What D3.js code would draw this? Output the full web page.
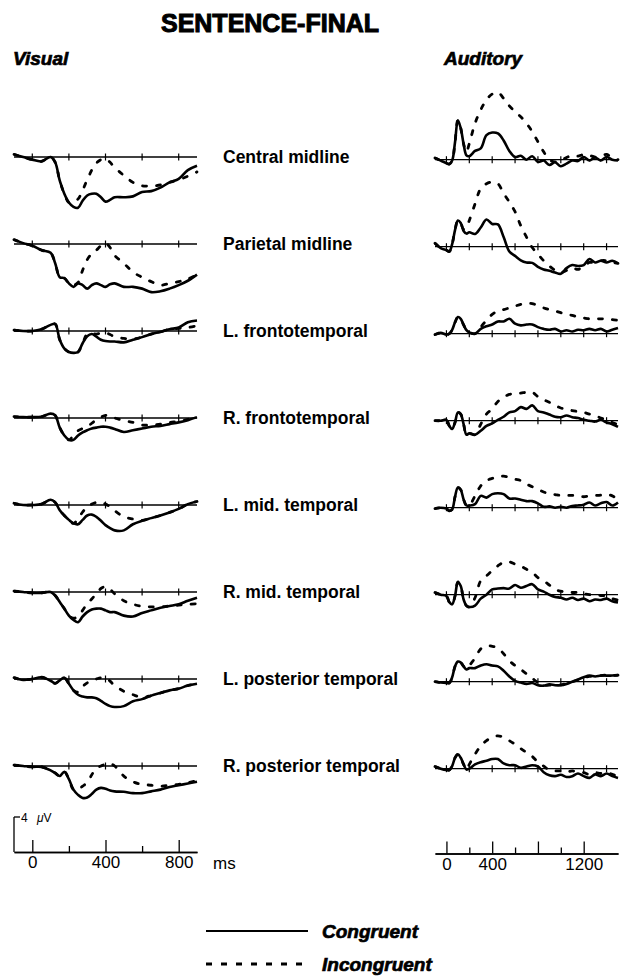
<!DOCTYPE html>
<html>
<head>
<meta charset="utf-8">
<script src="https://d3js.org/d3.v7.min.js"></script>
<style>
    html, body { margin: 0; padding: 0; background: #fff; }
    svg { display: block; font-family: "Liberation Sans", Arial, Helvetica, sans-serif; }
    .heavy { font-weight: bold; stroke: #000; stroke-width: 0.7px; }
</style>
</head>
<body>
<svg id="chart" width="624" height="977"></svg>
<script>
// recording sites, one row each
var sites = ["Central midline", "Parietal midline", "L. frontotemporal", "R. frontotemporal",
             "L. mid. temporal", "R. mid. temporal", "L. posterior temporal", "R. posterior temporal"];

// sample times (ms)
var visualTimes = [-100, -50, 0, 50, 100, 125, 150, 175, 200, 225, 250, 275, 300, 325, 350, 375,
                   400, 425, 450, 500, 550, 600, 650, 700, 750, 800, 850, 900];
var auditoryTimes = [-100, -50, 0, 25, 50, 75, 100, 125, 150, 175, 200, 250, 300, 350, 400, 450,
                     500, 550, 600, 650, 700, 750, 800, 850, 900, 950, 1000, 1050, 1100, 1150,
                     1200, 1250, 1300, 1350, 1400, 1450, 1500];

// amplitudes in microvolts, negative plotted up
var visualCongruent = [
    [-0.3, 0, 0.3, 0.5, 0, 0.6, 2.7, 4.2, 5.2, 5.7, 5.8, 5.0, 4.4, 4.2, 4.2, 4.6, 5.1, 4.9, 4.6, 4.6, 4.5, 4.0, 3.9, 3.5, 2.9, 2.5, 1.5, 1.0],
    [-0.5, -0.1, 0.2, 0.7, 1.0, 2.2, 3.8, 3.9, 4.5, 4.9, 4.5, 4.7, 5.1, 4.7, 4.5, 4.7, 4.9, 4.6, 4.5, 4.9, 4.9, 5.1, 5.5, 5.4, 5.1, 4.7, 4.2, 3.5],
    [-0.1, 0, 0, -0.2, -0.7, -0.8, 1.0, 2.0, 2.4, 2.5, 2.4, 1.4, 0.6, 0.35, 0.65, 1.0, 1.15, 1.2, 1.2, 1.3, 1.0, 0.7, 0.35, 0.1, -0.2, -0.4, -1.0, -1.2],
    [-0.15, -0.1, -0.1, -0.15, -0.5, -0.3, 1.1, 2.0, 2.5, 2.5, 2.0, 1.65, 1.4, 1.2, 1.1, 1.0, 1.0, 1.1, 1.25, 1.6, 1.4, 1.2, 1.0, 0.9, 0.7, 0.5, 0.25, -0.1],
    [-0.2, 0, 0, -0.1, -0.6, -0.3, 0.6, 1.2, 1.7, 2.1, 2.2, 1.7, 1.2, 1.1, 1.35, 1.8, 2.3, 2.65, 2.9, 2.9, 2.2, 1.8, 1.5, 1.2, 0.85, 0.45, -0.1, -0.4],
    [-0.1, 0, 0.1, 0.1, 0, 0.4, 1.15, 1.9, 2.7, 3.2, 3.45, 2.8, 2.3, 2.0, 1.9, 1.9, 2.1, 2.3, 2.3, 2.7, 2.8, 2.4, 2.1, 1.8, 1.6, 1.4, 1.0, 0.65],
    [-0.15, 0.1, 0, -0.2, 0.2, 0.5, 0.15, -0.15, 0.55, 1.3, 1.8, 2.0, 2.1, 2.1, 2.2, 2.5, 2.85, 3.1, 3.2, 3.1, 2.55, 2.3, 1.9, 1.6, 1.3, 1.1, 0.75, 0.55],
    [-0.1, 0, 0.1, 0.1, 0.5, 0.8, 1.15, 0.65, 1.5, 2.7, 3.3, 3.65, 3.6, 3.2, 2.7, 2.5, 2.6, 2.8, 2.9, 2.95, 3.1, 3.1, 2.9, 2.7, 2.4, 2.2, 2.0, 1.8]
];
var visualIncongruent = [
    [-0.3, 0, 0.3, 0.5, 0, 0.6, 2.7, 4.2, 5.2, 5.0, 4.8, 3.8, 2.6, 1.5, 0.7, 0.3, 0.2, 0.6, 1.2, 2.1, 2.9, 3.3, 3.3, 3.2, 2.9, 2.6, 2.2, 1.7],
    [-0.5, -0.1, 0.2, 0.7, 1.0, 2.2, 3.8, 3.9, 4.5, 4.7, 4.4, 3.0, 1.8, 1.1, 0.7, 0.2, -0.1, 0.4, 1.3, 2.2, 3.2, 3.8, 4.3, 4.7, 4.5, 4.3, 4.0, 3.5],
    [-0.1, 0, 0, -0.2, -0.7, -0.8, 1.0, 2.0, 2.4, 2.5, 2.4, 1.4, 0.35, 0.3, 0.35, 0.25, 0.2, 0.4, 0.65, 0.85, 0.9, 0.7, 0.35, 0.1, -0.2, -0.3, -0.4, -0.6],
    [-0.15, -0.1, -0.1, -0.15, -0.5, -0.3, 1.1, 2.0, 2.5, 2.0, 1.45, 1.2, 1.0, 0.6, 0.2, -0.1, -0.3, -0.2, 0, 0.3, 0.5, 0.8, 0.8, 0.7, 0.5, 0.4, 0.15, -0.1],
    [-0.2, 0, 0, -0.1, -0.6, -0.3, 0.6, 1.2, 1.7, 2.1, 1.6, 0.8, 0.2, -0.1, -0.3, -0.3, -0.1, 0.2, 0.65, 1.35, 1.6, 1.75, 1.5, 1.2, 0.85, 0.45, -0.1, -0.4],
    [-0.1, 0, 0.1, 0.1, 0, 0.4, 1.15, 1.9, 2.7, 3.0, 2.8, 2.1, 1.35, 0.8, 0.2, -0.4, -0.6, -0.3, 0.2, 1.0, 1.4, 1.65, 1.7, 1.7, 1.6, 1.5, 1.4, 1.35],
    [-0.15, 0.1, 0, -0.2, 0.2, 0.5, 0.15, -0.15, 0.55, 1.3, 1.5, 0.85, 0.45, 0.15, 0, -0.15, -0.15, 0.25, 0.75, 1.4, 1.8, 2.1, 1.9, 1.6, 1.3, 1.1, 0.75, 0.55],
    [-0.1, 0, 0.1, 0.1, 0.5, 0.8, 1.15, 0.65, 1.5, 2.7, 2.7, 2.3, 1.9, 1.0, 0.25, 0, -0.2, -0.25, 0, 1.15, 1.8, 2.1, 2.2, 2.3, 2.2, 2.1, 1.9, 1.7]
];
var auditoryCongruent = [
    [-0.2, 0.1, 0.4, 0.5, 0.1, -2.0, -4.5, -3.6, -1.8, -0.5, -0.4, -1.0, -1.3, -2.8, -3.1, -3.0, -2.2, -1.0, -0.3, -0.45, 0, -0.4, 0.25, 0.1, 0.6, 0.3, 0.75, 0.45, 0.1, 0.15, -0.3, 0.1, -0.25, 0.1, -0.3, 0, 0.1],
    [-0.4, 0.15, 0.4, 0.55, -0.3, -1.9, -3.0, -2.7, -1.8, -1.5, -1.65, -1.45, -2.2, -3.1, -2.6, -2.55, -1.1, 0.55, 1.05, 1.55, 1.8, 1.85, 2.3, 2.6, 2.75, 2.95, 3.1, 2.45, 2.1, 2.2, 2.1, 1.4, 1.8, 1.6, 1.8, 1.6, 1.9],
    [0.1, -0.1, 0.1, 0, -0.45, -1.3, -1.9, -1.7, -1.0, -0.4, -0.15, 0, -0.55, -0.85, -1.05, -1.4, -1.4, -1.7, -1.15, -0.95, -1.05, -1.05, -0.75, -0.55, -0.45, -0.55, -0.25, -0.4, -0.25, -0.45, -0.4, -0.55, -0.4, -0.55, -0.25, -0.45, -0.65],
    [0, 0, -0.1, 0.6, 0.95, 0.2, -0.95, -0.75, 0.4, 1.6, 1.45, 1.6, 1.15, 0.6, 0.3, -0.1, -0.45, -0.95, -1.1, -1.55, -1.35, -1.75, -1.1, -0.95, -0.7, -0.45, -0.4, -0.6, -0.4, -0.3, -0.1, 0, 0.1, -0.1, 0.2, 0.4, 0.7],
    [0.1, 0, 0.1, 0.35, 0.2, -1.25, -2.3, -2.05, -0.95, -0.25, -0.25, -0.4, -1.35, -1.15, -1.55, -1.65, -1.55, -1.05, -1.05, -0.9, -0.75, -0.75, -0.5, -0.1, -0.15, 0, -0.1, 0, -0.2, -0.25, -0.35, -0.6, -0.25, -0.5, -0.65, -0.25, -0.6],
    [-0.25, 0, 0.15, 0.85, 1.1, 0.15, -1.45, -1.0, 0.55, 1.25, 1.4, 1.25, 0.45, 0, -0.6, -0.7, -0.75, -0.7, -1.1, -0.8, -1.0, -1.2, -0.6, -0.35, 0, 0.25, 0.35, 0.55, 0.35, 0.6, 0.45, 0.75, 0.55, 0.6, 0.45, 0.75, 0.9],
    [0, 0.1, 0.15, 0.15, -0.5, -1.75, -2.3, -2.2, -1.75, -1.4, -1.55, -1.55, -1.85, -2.0, -1.85, -1.75, -1.25, -0.6, -0.1, 0.1, 0.25, 0.15, 0.4, 0.45, 0.3, 0.4, 0.4, 0.25, 0, -0.25, -0.5, -0.7, -0.6, -0.7, -0.7, -0.7, -0.75],
    [-0.25, 0, 0.15, 0.15, -0.3, -1.25, -1.65, -1.25, -0.5, 0.1, 0, -0.5, -0.75, -0.9, -1.1, -1.1, -0.6, -0.4, -0.4, -0.1, -0.25, -0.4, -0.25, 0.4, 0.75, 0.85, 0.7, 0.95, 0.85, 0.55, 0.85, 1.05, 0.65, 0.85, 0.55, 0.85, 1.05]
];
var auditoryIncongruent = [
    [-0.2, 0.1, 0.4, 0.5, 0.1, -2.0, -4.5, -3.6, -1.8, -0.9, -1.85, -4.15, -5.7, -6.85, -7.5, -7.7, -7.0, -6.15, -5.5, -4.9, -4.15, -3.2, -2.05, -0.9, 0, 0.25, 0.1, -0.25, -0.5, -0.4, -0.6, -0.5, -0.3, -0.4, -0.6, -0.2, 0],
    [-0.4, 0.15, 0.4, 0.55, -0.3, -1.9, -3.0, -2.7, -2.0, -2.2, -3.0, -4.9, -6.65, -7.2, -7.4, -7.2, -6.1, -5.1, -4.0, -2.4, -1.1, 0.1, 0.85, 1.6, 2.2, 2.7, 2.95, 2.7, 2.4, 2.6, 2.2, 1.8, 1.8, 1.6, 1.6, 1.8, 1.9],
    [0.1, -0.1, 0.1, 0, -0.45, -1.3, -1.9, -1.7, -1.0, -0.4, -0.15, 0, -0.75, -1.55, -2.2, -2.6, -2.75, -2.95, -3.15, -3.35, -3.45, -3.45, -3.2, -2.95, -2.75, -2.6, -2.4, -2.2, -2.1, -1.9, -1.8, -1.7, -1.7, -1.7, -1.7, -1.6, -1.55],
    [0, 0, -0.1, 0.6, 0.95, 0.2, -0.95, -0.75, 0.4, 1.6, 1.45, 1.6, 0.4, -0.75, -1.35, -2.2, -2.7, -3.0, -3.1, -3.15, -3.25, -3.25, -2.75, -2.4, -2.1, -1.75, -1.45, -1.35, -1.15, -1.05, -0.95, -0.75, -0.6, -0.3, -0.1, 0.2, 0.45],
    [0.1, 0, 0.1, 0.35, 0.2, -1.25, -2.3, -2.05, -0.95, -0.25, -0.25, -1.35, -2.5, -3.1, -3.35, -3.55, -3.6, -3.45, -3.25, -3.1, -2.7, -2.4, -2.1, -1.8, -1.6, -1.5, -1.4, -1.4, -1.4, -1.35, -1.25, -1.35, -1.4, -1.45, -1.55, -1.35, -0.95],
    [-0.25, 0, 0.15, 0.85, 1.1, 0.15, -1.45, -1.0, 0.55, 1.25, 1.4, 0.35, -1.6, -2.15, -2.75, -3.3, -3.7, -3.75, -3.5, -3.25, -2.9, -2.55, -1.95, -1.6, -1.1, -0.6, -0.4, -0.3, -0.25, -0.25, -0.1, 0, 0, 0.1, 0.15, 0.45, 0.6],
    [0, 0.1, 0.15, 0.15, -0.5, -1.75, -2.3, -2.2, -1.75, -1.5, -1.85, -2.7, -3.75, -4.1, -4.05, -3.85, -3.2, -2.4, -1.85, -1.4, -0.9, -0.4, 0.1, 0.4, 0.4, 0.4, 0.35, 0.2, 0, -0.2, -0.45, -0.6, -0.65, -0.7, -0.75, -0.7, -0.75],
    [-0.25, 0, 0.15, 0.15, -0.3, -1.25, -1.65, -1.25, -0.5, 0.1, -0.5, -1.65, -2.6, -3.2, -3.6, -3.75, -3.6, -3.2, -2.8, -2.3, -1.85, -1.4, -0.75, -0.3, 0.15, 0.25, 0.25, 0.4, 0.25, 0.4, 0.45, 0.65, 0.45, 0.55, 0.45, 0.65, 0.85]
];

// axis ticks
var visualRowTicks = [0, 200, 400, 600, 800];
var auditoryRowTicks = [0, 200, 400, 600, 800, 1000, 1200, 1400];
var visualMajor = [0, 400, 800], visualMinor = [200, 600];
var auditoryMajor = [0, 400, 800, 1200], auditoryMinor = [200, 600, 1000];
var auditoryLabels = [0, 400, 1200];

var svg = d3.select("#chart");

var xV = d3.scaleLinear().domain([-100, 900]).range([14, 197]);
var xA = d3.scaleLinear().domain([-100, 1500]).range([435, 618]);
var rowY = d3.scalePoint().domain(sites).range([157, 766]);
var uv = d3.scaleLinear().domain([0, 4]).range([0, 35]);   // 4 uV = 35 px
var audShift = 2.7;

// headings
svg.append("text").attr("class", "heavy").attr("x", 270).attr("y", 32).attr("text-anchor", "middle")
    .style("font-size", "25px").style("stroke-width", "1px").text("SENTENCE-FINAL");
svg.append("text").attr("class", "heavy").attr("x", 13).attr("y", 65)
    .style("font-size", "19px").style("font-style", "italic").text("Visual");
svg.append("text").attr("class", "heavy").attr("x", 444).attr("y", 65)
    .style("font-size", "19px").style("font-style", "italic").text("Auditory");

function drawPanel(x, times, cong, incong, base, ticks) {
    var g = svg.append("g");
    g.append("line")
        .attr("x1", x.range()[0]).attr("x2", x.range()[1])
        .attr("y1", base).attr("y2", base)
        .attr("stroke", "#000").attr("stroke-width", 1.3);
    g.selectAll(".tk").data(ticks).enter().append("line")
        .attr("x1", d => x(d)).attr("x2", d => x(d))
        .attr("y1", base - 3.5).attr("y2", base + 3.5)
        .attr("stroke", "#000").attr("stroke-width", 1.2);

    var line = d3.line()
        .x((d, i) => x(times[i]))
        .y(d => base + uv(d))
        .curve(d3.curveCatmullRom.alpha(0.5));

    g.append("path").attr("d", line(incong))
        .attr("fill", "none").attr("stroke", "#000").attr("stroke-width", 2.8)
        .attr("stroke-dasharray", "4,10").attr("stroke-linecap", "round");
    g.append("path").attr("d", line(cong))
        .attr("fill", "none").attr("stroke", "#000").attr("stroke-width", 2.6)
        .attr("stroke-linejoin", "round");
}

sites.forEach(function(s, i) {
    drawPanel(xV, visualTimes, visualCongruent[i], visualIncongruent[i], rowY(s), visualRowTicks);
    drawPanel(xA, auditoryTimes, auditoryCongruent[i], auditoryIncongruent[i], rowY(s) + audShift, auditoryRowTicks);
    svg.append("text").attr("x", 223).attr("y", rowY(s) + 6)
        .style("font-size", "17.5px").style("font-weight", "bold").text(s);
});

// bottom time axes
function timeAxis(x, y, major, minor, labels) {
    var g = svg.append("g").attr("transform", "translate(0," + y + ")");
    g.call(d3.axisBottom(x).tickValues(minor).tickSizeInner(-6).tickSizeOuter(0).tickFormat(""));
    var gm = svg.append("g").attr("transform", "translate(0," + y + ")");
    gm.call(d3.axisBottom(x).tickValues(major).tickSizeInner(-12).tickSizeOuter(0)
        .tickPadding(4).tickFormat(d => labels.indexOf(d) >= 0 ? d : ""));
    [g, gm].forEach(function(a) {
        a.attr("font-family", null).attr("font-size", null);
        a.selectAll("path, line").attr("stroke", "#000").attr("stroke-width", 1.3);
        a.selectAll("text").attr("fill", "#000").style("font-size", "17px").attr("dy", "0.71em");
    });
    return gm;
}
timeAxis(xV, 852, visualMajor, visualMinor, visualMajor);
timeAxis(xA, 853.5, auditoryMajor, auditoryMinor, auditoryLabels);
svg.append("text").attr("x", 213).attr("y", 869).style("font-size", "17px").text("ms");

// voltage scale bar
var barTop = 852 - uv(4);
svg.append("line").attr("x1", xV(-100)).attr("x2", xV(-100)).attr("y1", barTop).attr("y2", 852)
    .attr("stroke", "#000").attr("stroke-width", 1.3);
svg.append("line").attr("x1", xV(-100)).attr("x2", xV(-100) + 6).attr("y1", barTop).attr("y2", barTop)
    .attr("stroke", "#000").attr("stroke-width", 1.3);
var sb = svg.append("text").attr("x", 21).attr("y", barTop + 5).style("font-size", "12px");
sb.append("tspan").text("4 ");
sb.append("tspan").attr("dx", 6).style("font-style", "italic").text("\u03bc");
sb.append("tspan").text("V");

// legend
var legend = [{name: "Congruent", dash: null, y: 931}, {name: "Incongruent", dash: "6,9", y: 964}];
legend.forEach(function(d) {
    svg.append("line").attr("x1", 206).attr("x2", 308).attr("y1", d.y).attr("y2", d.y)
        .attr("stroke", "#000").attr("stroke-width", d.dash ? 2.8 : 2.2)
        .attr("stroke-dasharray", d.dash);
    svg.append("text").attr("class", "heavy").attr("x", 322).attr("y", d.y + 7)
        .style("font-size", "19px").style("font-style", "italic").text(d.name);
});
</script>
</body>
</html>
